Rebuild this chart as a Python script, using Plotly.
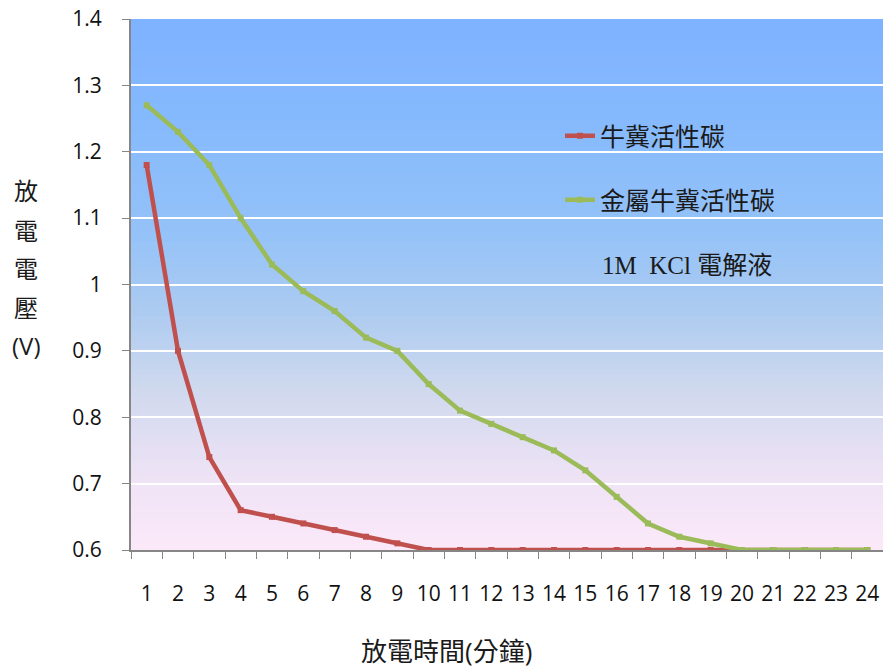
import plotly.graph_objects as go

minutes = [str(i) for i in range(1, 25)]
cow_carbon = [1.18, 0.90, 0.74, 0.66, 0.65, 0.64, 0.63, 0.62, 0.61, 0.60,
              0.60, 0.60, 0.60, 0.60, 0.60, 0.60, 0.60, 0.60, 0.60, 0.60,
              0.60, 0.60, 0.60, 0.60]
metal_cow_carbon = [1.27, 1.23, 1.18, 1.10, 1.03, 0.99, 0.96, 0.92, 0.90, 0.85,
                    0.81, 0.79, 0.77, 0.75, 0.72, 0.68, 0.64, 0.62, 0.61, 0.60,
                    0.60, 0.60, 0.60, 0.60]
series_names = ["牛冀活性碳", "金屬牛冀活性碳"]
y_title_chars = ["放", "電", "電", "壓", "(V)"]
x_title = "放電時間(分鐘)"
note_text = "1M  KCl 電解液"

RED = "#C0504D"
GREEN = "#9BBB59"
LEG_FONT = dict(family="Liberation Serif, Noto Sans CJK TC", size=25, color="#1a1a1a")
SANS = "Open Sans, Noto Sans CJK TC"

PL, PT, PR, PB = 131, 19, 883, 550  # plot area in page pixels
W, H = 883, 668
PW, PH = PR - PL, PB - PT

def px(x):
    return (x - PL) / PW

def py(y):
    return (PB - y) / PH

fig = go.Figure()
fig.add_trace(go.Scatter(x=minutes, y=cow_carbon, mode="lines+markers", name=series_names[0],
                         line=dict(color=RED, width=4.5),
                         marker=dict(symbol="square", size=6, color=RED), legend="legend"))
fig.add_trace(go.Scatter(x=minutes, y=metal_cow_carbon, mode="lines+markers", name=series_names[1],
                         line=dict(color=GREEN, width=4.5),
                         marker=dict(symbol="square", size=6, color=GREEN), legend="legend2"))

# gradient background
stops = [(0.0, (252, 233, 249)), (0.15, (236, 226, 245)), (0.3, (208, 217, 238)),
         (0.45, (172, 203, 241)), (0.6, (148, 194, 248)), (0.8, (134, 186, 253)),
         (1.0, (127, 178, 255))]

def col(f):
    for (a, ca), (b, cb) in zip(stops[:-1], stops[1:]):
        if a <= f <= b:
            t = (f - a) / (b - a)
            return "rgb(%d,%d,%d)" % tuple(round(ca[i] + (cb[i] - ca[i]) * t) for i in range(3))
    return "rgb(%d,%d,%d)" % stops[-1][1]

N = 100
shapes = []
for k in range(N):
    y0 = k / N
    y1 = (k + 1) / N + 0.002
    shapes.append(dict(type="rect", xref="paper", yref="paper", x0=0, x1=1, y0=y0, y1=min(y1, 1),
                       fillcolor=col((k + 0.5) / N), line=dict(width=0), layer="below"))

annotations = []
y_pos = [190, 230, 268, 307, 345]
for ch, yp in zip(y_title_chars, y_pos):
    annotations.append(dict(text=ch, xref="paper", yref="paper", x=px(26), y=py(yp),
                            xanchor="center", yanchor="middle", showarrow=False,
                            font=dict(family=SANS, size=24, color="#1a1a1a")))
annotations.append(dict(text=x_title, xref="paper", yref="paper", x=px(446), y=py(651),
                        xanchor="center", yanchor="middle", showarrow=False,
                        font=dict(family=SANS, size=26, color="#1a1a1a")))
annotations.append(dict(text=note_text, xref="paper", yref="paper", x=px(600), y=py(265),
                        xanchor="left", yanchor="middle", showarrow=False, font=LEG_FONT))

fig.update_layout(
    width=W, height=H,
    margin=dict(l=PL, r=W - PR, t=PT, b=H - PB),
    paper_bgcolor="white", plot_bgcolor="rgba(0,0,0,0)",
    shapes=shapes, annotations=annotations,
    showlegend=True,
    legend=dict(x=px(560), y=py(136), xanchor="left", yanchor="middle",
                bgcolor="rgba(0,0,0,0)", font=LEG_FONT, itemwidth=30),
    legend2=dict(x=px(560), y=py(200), xanchor="left", yanchor="middle",
                 bgcolor="rgba(0,0,0,0)", font=LEG_FONT, itemwidth=30),
    xaxis=dict(type="category", tickson="boundaries", ticks="outside", ticklen=7, tickcolor="#868686",
               showline=True, linecolor="#868686", linewidth=2, showgrid=False, zeroline=False,
               tickfont=dict(family=SANS, size=21, color="#111"), ticklabelstandoff=24,
               tickangle=0, ticklabeloverflow="allow", range=[-0.5, 23.5]),
    yaxis=dict(range=[0.6, 1.4], dtick=0.1, tick0=0.6, ticks="outside", ticklen=7, tickcolor="#868686",
               showline=True, linecolor="#868686", linewidth=2, showgrid=True, gridcolor="white",
               gridwidth=2, zeroline=False, tickfont=dict(family=SANS, size=21, color="#111"),
               ticklabelstandoff=16, ticklabeloverflow="allow"),
)

fig.write_html("out.html", config={"displayModeBar": False},
               post_script="document.body.style.margin='0';document.body.style.overflow='hidden';")
